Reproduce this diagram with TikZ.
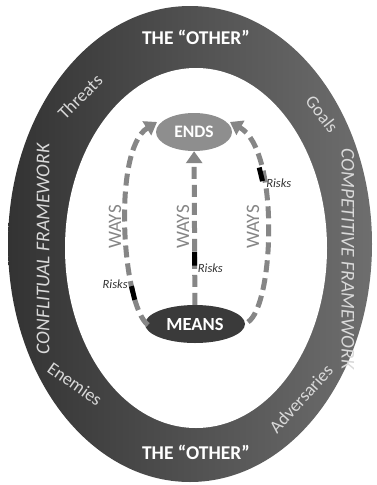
\documentclass[tikz,border=0pt]{standalone}
\usepackage{fontspec}
\setmainfont{Carlito}
\usetikzlibrary{arrows.meta, positioning, shapes.geometric}
\definecolor{bandleft}{HTML}{333333}
\definecolor{bandright}{HTML}{6E6E6E}
\definecolor{waysgray}{HTML}{868686}
\definecolor{endsgray}{HTML}{8E8E8E}
\definecolor{meansgray}{HTML}{3A3A3A}
\definecolor{softwhite}{HTML}{D9D9D9}
\tikzset{
	bandtext/.style={font=\fontsize{19.5}{21}\selectfont\bfseries, text=white, inner sep=0pt}
}
\tikzset{
	frametext/.style={font=\fontsize{19.5}{21}\selectfont\itshape, text=softwhite, inner sep=0pt}
}
\tikzset{
	smallbandtext/.style={font=\fontsize{18}{20}\selectfont, text=softwhite, inner sep=0pt}
}
\tikzset{
	wayslabel/.style={font=\fontsize{19}{21}\selectfont, text=waysgray, inner sep=0pt, rotate=90}
}
\tikzset{
	waysarrow/.style={draw=waysgray, line width=5pt, dash pattern=on 12pt off 6pt,
			-{Triangle[width=16pt,length=12pt,fill=waysgray]}}
}
\tikzset{
	riskmark/.style={sloped, fill=black, minimum width=14pt, minimum height=5pt, inner sep=0pt}
}
\tikzset{
	risktext/.style={font=\fontsize{12.5}{14}\selectfont\itshape, text=black!80, inner sep=1pt}
}

\begin{document}
\begin{tikzpicture}[x=1pt, y=-1pt]

	\useasboundingbox (0,0) rectangle (377,485);

	% outer band and inner field
	\begin{scope}
		\shade[left color=bandleft, right color=bandright] (190,244) ellipse [x radius=182pt, y radius=238pt];
		\fill[white] (196,248) ellipse [x radius=131pt, y radius=180pt];
	\end{scope}

	\begin{scope}
		\node[bandtext] (otherT) at (196,37) {THE “OTHER”};
		\node[bandtext] (otherB) at (196,452) {THE “OTHER”};
		\node[frametext, rotate=90] (conf) at (43,249) {CONFLITUAL FRAMEWORK};
		\node[frametext, rotate=-90] (comp) at (348,259) {COMPETITIVE FRAMEWORK};
		\node[smallbandtext, rotate=45] (threats) at (80,97) {Threats};
		\node[smallbandtext, rotate=-52] (goals) at (322,114) {Goals};
		\node[smallbandtext, rotate=-35] (enemies) at (75,384) {Enemies};
		\node[smallbandtext, rotate=48] (advers) at (301,399) {Adversaries};
	\end{scope}

	\begin{scope}
		\node[ellipse, fill=endsgray, minimum width=76pt, minimum height=38pt, inner sep=0pt,
			font=\fontsize{17.5}{19}\selectfont\bfseries, text=white] (ends) at (194,132) {ENDS};
		\node[ellipse, fill=meansgray, minimum width=100pt, minimum height=38pt, inner sep=0pt,
			font=\fontsize{18.5}{20}\selectfont\bfseries, text=white] (means) at (195,324) {MEANS};

		\coordinate (lS) at (148,325);
		\coordinate (lE) at (157,122);
		\coordinate (rS) at (248,322);
		\coordinate (rE) at (230,122);

		\draw[waysarrow] (lS) .. controls (122,305) and (112,150) .. (lE)
			node[riskmark, pos=0.23] (rk1) {};
		\draw[waysarrow] (means) -- (ends)
			node[riskmark, pos=0.3] (rk2) {};
		\draw[waysarrow] (rS) .. controls (274,305) and (280,150) .. (rE)
			node[riskmark, pos=0.7] (rk3) {};

		\node[risktext, left=2pt of rk1] (rt1) {Risks};
		\node[risktext, right=2pt of rk2] (rt2) {Risks};
		\node[risktext, right=2pt of rk3] (rt3) {Risks};

		\node[wayslabel] (w1) at (115,227) {WAYS};
		\node[wayslabel] (w2) at (183,227) {WAYS};
		\node[wayslabel] (w3) at (253,227) {WAYS};
	\end{scope}

\end{tikzpicture}
\end{document}
